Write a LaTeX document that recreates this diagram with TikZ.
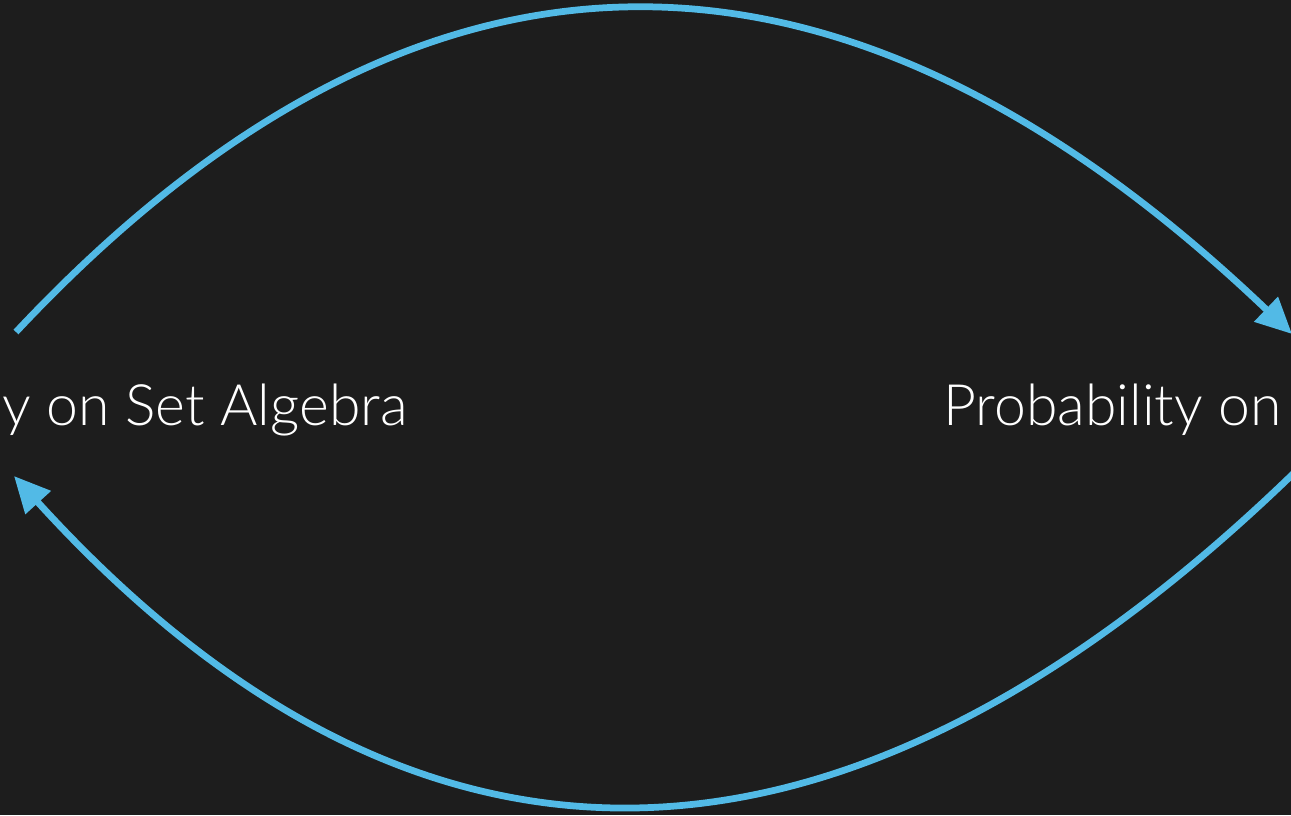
\documentclass[tikz,border=0pt]{standalone}
\usepackage{fontspec}
\setmainfont{Lato Light}
\usepackage{xcolor}
\usetikzlibrary{arrows.meta,positioning}

\definecolor{board}{RGB}{29,29,29}
\definecolor{sky}{RGB}{82,186,230}

\begin{document}
\begin{tikzpicture}[
        x=0.02cm, y=-0.02cm,
        title/.style={text=white, font=\fontsize{32.5}{40}\selectfont, inner sep=0pt},
        loop/.style={line width=0.135cm, sky, -{Triangle[length=0.72cm, width=0.66cm]}}
    ]
        %--- Board ---
        \fill[board] (0,0) rectangle (1291,815);
        \useasboundingbox (0,0) rectangle (1291,815);

        %--- Titles ---
        \node[title, anchor=base east] (setalg) at (408,425) {y on Set Algebra};
        \node[title, anchor=base west] (sigalg) at (943,425) {Probability on};

        %--- Arc ends ---
        \coordinate (topstart) at (16,332);
        \coordinate (topend) at (1292,334);
        \coordinate (botstart) at (1295,472);
        \coordinate (botend) at (14,476);

        %--- Arrows ---
        \draw[loop] (topstart) .. controls (420,-99) and (840,-97) .. (topend);
        \draw[loop] (botstart) .. controls (840,913) and (415,917) .. (botend);
    \end{tikzpicture}
\end{document}
